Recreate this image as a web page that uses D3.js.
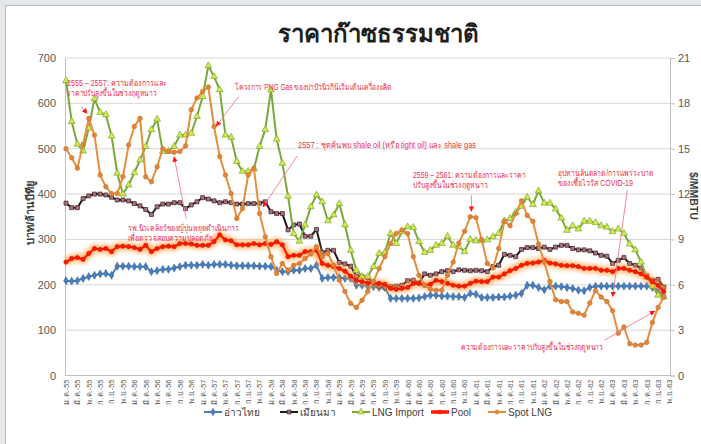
<!DOCTYPE html>
<html><head><meta charset="utf-8">
<script src="https://cdn.jsdelivr.net/npm/d3@7/dist/d3.min.js"></script>
<style>
body{margin:0;background:#e4e8eb;overflow:hidden}
svg{display:block;font-family:"Liberation Sans","Noto Sans",sans-serif}
</style>
</head><body>
<svg id="c" width="701" height="444"></svg>
<script>
// ---------------- DATA ----------------
const monthNames = ["ม.ค.","ก.พ.","มี.ค.","เม.ย.","พ.ค.","มิ.ย.","ก.ค.","ส.ค.","ก.ย.","ต.ค.","พ.ย.","ธ.ค."];
const years = ["55","56","57","58","59","60","61","62","63"];
const axisEnd = "พ.ย.-63";
const leftTicks = [0,100,200,300,400,500,600,700];
const rightTicks = [0,3,6,9,12,15,18,21];
const seriesNames = ["อ่าวไทย","เมียนมา","LNG Import","Pool","Spot LNG"];

// บาท/ล้านบีทียู, monthly from ม.ค.-55
const gulfThai = [209,208,209,214,218,221,224,225,221,241,
241,241,240,240,240,229,231,234,234,237,
240,243,243,243,245,243,245,245,245,243,
242,242,242,242,241,241,240,232,229,229,
232,232,236,236,243,214,216,216,216,214,
214,199,199,197,196,194,194,170,170,170,
170,170,171,174,177,177,175,175,174,174,
172,181,179,172,172,172,173,173,175,177,
181,199,199,194,189,197,197,196,194,192,
188,187,194,197,197,197,197,197,197,197,
197,197,197,194,188,175];
const myanmar = [380,370,370,390,396,400,400,398,393,387,
387,385,379,374,366,355,372,378,378,381,
381,368,376,383,392,389,385,381,383,381,
378,378,379,379,380,383,361,357,357,321,
332,334,307,307,322,271,276,276,249,246,
241,219,218,216,204,197,194,196,197,199,
209,210,204,224,221,224,229,231,229,233,
232,231,232,231,229,240,243,267,265,262,
278,282,282,280,283,278,283,287,287,280,
277,277,275,270,265,263,247,254,260,247,
243,237,220,210,212,195];
const lngImport = [650,560,510,495,545,610,580,575,528,446,
400,420,447,475,505,542,565,494,494,505,
530,530,534,571,615,683,659,630,530,525,
472,450,450,455,505,542,630,521,468,395,
313,296,332,372,398,383,341,354,379,332,
276,232,218,218,240,269,271,313,291,317,
328,326,295,271,276,287,291,307,287,284,
273,300,297,297,299,306,313,341,346,360,
373,393,377,407,380,380,367,347,320,330,
323,340,340,337,330,327,317,323,313,290,
277,250,217,197,177,173];
const pool = [250,258,260,256,269,280,278,280,273,284,
285,284,282,278,287,273,280,284,285,284,
291,291,290,287,287,287,295,310,299,297,
288,288,288,291,288,291,289,295,288,262,
265,265,273,273,276,247,243,240,236,230,
219,210,207,204,204,203,201,192,190,192,
194,203,203,199,201,210,207,203,199,197,
197,203,208,207,207,217,217,224,231,236,
243,247,248,250,254,248,246,243,242,242,
240,236,236,236,232,232,229,236,236,232,
229,224,217,207,199,185];
const spotLNG = [500,480,457,510,567,530,442,416,401,401,
438,508,549,567,438,427,460,500,494,492,
494,506,586,612,626,636,549,483,442,401,
346,368,442,457,357,306,262,225,247,232,
243,247,258,268,284,262,269,243,210,185,
159,150,166,185,207,236,262,291,313,321,
313,262,221,199,190,188,188,221,250,292,
318,350,348,300,247,237,280,340,330,357,
385,353,340,290,250,207,167,163,163,140,
137,133,160,187,173,163,143,93,107,70,
67,67,73,117,150,173];

// annotations: text lines + arrow (category index, left-axis value)
const annotations = [
  {lines:["2555 – 2557: ความต้องการและ","ราคาปรับสูงขึ้นในช่วงฤดูหนาว"], widths:[100,90], tx:67, ty:86, from:[2.7,593], to:[3.7,578]},
  {lines:["โครงการ PNG Gas ของปาปัวนิวกินีเริ่มเดินเครื่องผลิต"], widths:[157], tx:235, ty:90, from:[30.3,615], to:[26.4,550]},
  {lines:["2557 : ชุดค้นพบ shale oil (หรือ tight oil) และ shale gas"], widths:[178], tx:298, ty:148, from:[40.6,484], to:[34.6,372]},
  {lines:["2559 – 2561: ความต้องการและราคา","ปรับสูงขึ้นในช่วงฤดูหนาว"], widths:[113,75], tx:413, ty:178, from:[71.2,397], to:[71.2,362]},
  {lines:["อุปทานล้นตลาด/การแพร่ระบาด","ของเชื้อไวรัส COVID-19"], widths:[96,75], tx:558, ty:176, from:[98.6,409], to:[96.0,174]},
  {lines:["ความต้องการและราคาปรับสูงขึ้นในช่วงฤดูหนาว"], widths:[142], tx:461, ty:350, from:[94.6,78], to:[103.4,142]},
  {lines:["รฟ.นิวเคลียร์ของญี่ปุ่นหยุดดำเนินการ","เพื่อตรวจสอบความปลอดภัย"], widths:[111,85], tx:128, ty:231, from:[21.1,346], to:[19.0,482]}
];

// ---------------- BUILD ----------------
const categories = [];
for (const y of years) for (const m of monthNames) {
  if (categories.length && categories[categories.length-1] === axisEnd) break;
  categories.push(m + "-" + y);
}
const tickLabels = categories.filter((c,i)=> i%2===0);

const svg = d3.select("#c");
const defs = svg.append("defs");
const glow = defs.append("filter").attr("id","glow").attr("x","-5%").attr("y","-20%").attr("width","110%").attr("height","140%");
glow.append("feGaussianBlur").attr("stdDeviation",2.2);
defs.append("marker").attr("id","ah").attr("viewBox","0 0 10 10").attr("refX",9).attr("refY",5)
  .attr("markerWidth",6).attr("markerHeight",6).attr("orient","auto")
  .append("path").attr("d","M0,0L10,5L0,10z").attr("fill","#ff1010");

svg.append("rect").attr("x",5.5).attr("y",5.5).attr("width",700).attr("height",450)
  .attr("fill","#fff").attr("stroke","#b9b9b9");

const L = 65, R = 670, T = 58, B = 375.5;
const x = d3.scalePoint().domain(categories).range([66, 669.5]);
const yL = d3.scaleLinear().domain([0,700]).range([B,T]);
const yR = d3.scaleLinear().domain([0,21]).range([B,T]);
const xi = i => x(categories[0]) + i*x.step();

// title
svg.append("text").attr("x",378).attr("y",42).attr("text-anchor","middle")
  .attr("font-size",24).attr("font-weight","bold").attr("fill","#1e1e1e").text("ราคาก๊าซธรรมชาติ");

// gridlines
svg.append("g").selectAll("line").data(leftTicks.filter(d=>d>0)).join("line")
  .attr("x1",L).attr("x2",R).attr("y1",d=>yL(d)).attr("y2",d=>yL(d))
  .attr("stroke","#d9d9d9").attr("stroke-width",1);

// left axis
const gl = svg.append("g").attr("transform",`translate(${L},0)`)
  .call(d3.axisLeft(yL).tickValues(leftTicks).tickSize(0).tickPadding(9));
gl.select(".domain").attr("stroke","#bfbfbf");
gl.selectAll("text").attr("font-size",11).attr("fill","#595959");

// right axis
const gr = svg.append("g").attr("transform",`translate(${R},0)`)
  .call(d3.axisRight(yR).tickValues(rightTicks).tickSize(5).tickPadding(3));
gr.select(".domain").attr("stroke","#bfbfbf");
gr.selectAll("line").attr("stroke","#bfbfbf");
gr.selectAll("text").attr("font-size",11).attr("fill","#595959");

// bottom axis
const gb = svg.append("g").attr("transform",`translate(0,${B})`)
  .call(d3.axisBottom(x).tickValues(tickLabels).tickSize(0));
gb.select(".domain").attr("stroke","#bfbfbf").attr("d",`M${L},0H${R}`);
gb.selectAll(".tick text").attr("font-size",7.5).attr("fill","#595959")
  .attr("transform","rotate(-90)").attr("text-anchor","end")
  .attr("x",-4).attr("y",0).attr("dy","0.32em");

// axis titles
svg.append("text").attr("transform","translate(34,213) rotate(-90)").attr("text-anchor","middle")
  .attr("font-size",11).attr("font-weight","bold").attr("fill","#404040").text("บาท/ล้านบีทียู");
svg.append("text").attr("transform","translate(690,196) rotate(90)").attr("text-anchor","middle")
  .attr("font-size",10.5).attr("font-weight","bold").attr("fill","#404040").text("$/MMBTU");

// series
const line = d3.line().x((d,i)=>xi(i)).y(d=>yL(d));
const plot = svg.append("g");

function drawSeries(data, color, width, symbol, size, fill, stroke){
  plot.append("path").datum(data).attr("d",line).attr("fill","none")
    .attr("stroke",color).attr("stroke-width",width).attr("stroke-linejoin","round");
  plot.append("g").selectAll("path").data(data).join("path")
    .attr("transform",(d,i)=>`translate(${xi(i)},${yL(d)})`)
    .attr("d",d3.symbol(symbol,size)).attr("fill",fill).attr("stroke",stroke).attr("stroke-width",0.7);
}
drawSeries(gulfThai,"#4a7ebb",2,d3.symbolDiamond,18,"#4a7ebb","#3c6ea8");
drawSeries(myanmar,"#1f1a1a",2,d3.symbolSquare,16,"#a8707c","#3a1f24");
drawSeries(lngImport,"#7aa83a",2,d3.symbolTriangle,20,"#d6e84a","#7aa83a");
plot.append("path").datum(pool).attr("d",line).attr("fill","none")
  .attr("stroke","#ff9a30").attr("stroke-width",8).attr("opacity",0.7).attr("filter","url(#glow)");
drawSeries(pool,"#ff1a00",2.2,d3.symbolCircle,14,"#ff1a00","#e01000");
drawSeries(spotLNG,"#e58e3d",2,d3.symbolCircle,16,"#e0843a","#d0752c");

// annotations
const ag = svg.append("g");
annotations.forEach(a=>{
  ag.append("line").attr("x1",xi(a.from[0])).attr("y1",yL(a.from[1]))
    .attr("x2",xi(a.to[0])).attr("y2",yL(a.to[1]))
    .attr("stroke","#f07a8a").attr("stroke-width",0.9).attr("marker-end","url(#ah)");
  a.lines.forEach((s,k)=> ag.append("text").attr("x",a.tx).attr("y",a.ty+k*9.5)
    .attr("font-size",8.5).attr("fill","#f0304a")
    .attr("textLength",a.widths[k]).attr("lengthAdjust","spacingAndGlyphs").text(s));
});

// legend
const legendItems = [
  {name:seriesNames[0], color:"#4a7ebb", w:2, sym:d3.symbolDiamond, size:16, fill:"#4a7ebb", x:204},
  {name:seriesNames[1], color:"#1f1a1a", w:2, sym:d3.symbolSquare, size:14, fill:"#a8707c", x:280},
  {name:seriesNames[2], color:"#7aa83a", w:2, sym:d3.symbolTriangle, size:18, fill:"#d6e84a", x:352},
  {name:seriesNames[3], color:"#ff1a00", w:3.5, sym:d3.symbolCircle, size:12, fill:"#ff1a00", x:431},
  {name:seriesNames[4], color:"#e58e3d", w:2, sym:d3.symbolCircle, size:14, fill:"#e0843a", x:488}
];
const lg = svg.append("g").attr("transform","translate(0,412)");
legendItems.forEach(it=>{
  lg.append("line").attr("x1",it.x).attr("x2",it.x+18).attr("y1",0).attr("y2",0)
    .attr("stroke",it.color).attr("stroke-width",it.w);
  lg.append("path").attr("transform",`translate(${it.x+9},0)`).attr("d",d3.symbol(it.sym,it.size))
    .attr("fill",it.fill).attr("stroke",it.color).attr("stroke-width",0.7);
  lg.append("text").attr("x",it.x+20).attr("y",3.5).attr("font-size",10).attr("fill","#404040").text(it.name);
});
</script>
</body></html>
